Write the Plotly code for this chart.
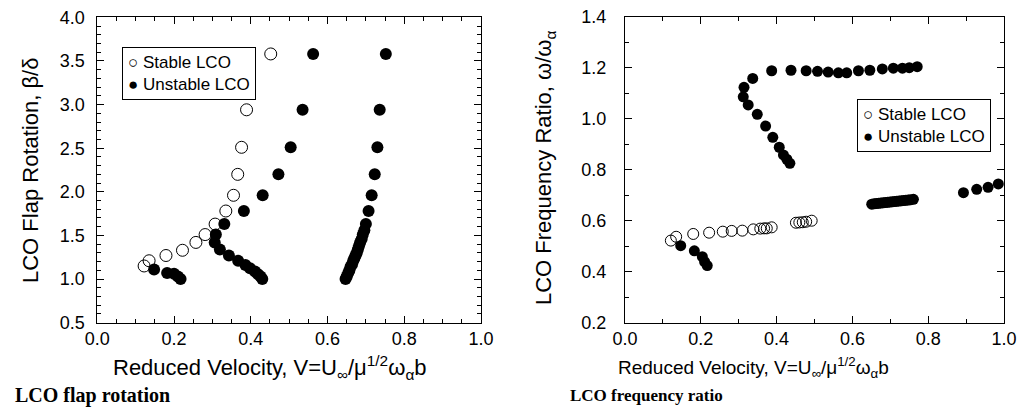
import plotly.graph_objects as go

# ---------------- data: LCO flap rotation ----------------
flap_stable_v = [0.122, 0.135, 0.179, 0.222, 0.257, 0.281, 0.307, 0.335, 0.355, 0.366, 0.376, 0.389, 0.452]
flap_stable_r = [1.15, 1.21, 1.27, 1.33, 1.42, 1.51, 1.63, 1.78, 1.96, 2.20, 2.51, 2.94, 3.58]

flap_unst_a_v = [0.148, 0.182, 0.200, 0.210, 0.217]
flap_unst_a_r = [1.11, 1.07, 1.06, 1.03, 1.00]

flap_unst_b_v = [0.430, 0.4255, 0.419, 0.411, 0.398, 0.386, 0.367, 0.343, 0.3195, 0.306, 0.309, 0.331,
                 0.382, 0.431, 0.472, 0.504, 0.535, 0.5625]
flap_unst_b_r = [1.00, 1.03, 1.056, 1.086, 1.125, 1.16, 1.21, 1.27, 1.34, 1.42, 1.51, 1.63,
                 1.78, 1.96, 2.20, 2.51, 2.94, 3.58]

flap_unst_c_v = [0.647, 0.650, 0.654, 0.657, 0.660, 0.664, 0.667, 0.670, 0.673, 0.676, 0.679, 0.682,
                 0.685, 0.689, 0.692, 0.696, 0.700, 0.707, 0.715, 0.723, 0.730, 0.736, 0.752]
flap_unst_c_r = [1.00, 1.03, 1.07, 1.10, 1.14, 1.17, 1.21, 1.24, 1.27, 1.30, 1.34, 1.38,
                 1.42, 1.46, 1.51, 1.56, 1.63, 1.78, 1.96, 2.20, 2.51, 2.94, 3.58]

# ---------------- data: LCO frequency ratio ----------------
freq_stable_v = [0.121, 0.135, 0.180, 0.222, 0.258, 0.2815, 0.3095, 0.3385, 0.357, 0.367, 0.374, 0.387,
                 0.451, 0.460, 0.469, 0.478, 0.4925]
freq_stable_w = [0.522, 0.537, 0.548, 0.553, 0.557, 0.560, 0.561, 0.566, 0.569, 0.570, 0.570, 0.574,
                 0.592, 0.593, 0.594, 0.596, 0.600]

freq_unst_a_v = [0.147, 0.183, 0.204, 0.210, 0.217]
freq_unst_a_w = [0.502, 0.482, 0.459, 0.439, 0.424]

freq_unst_b_v = [0.435, 0.427, 0.418, 0.407, 0.390, 0.371, 0.349, 0.325, 0.312, 0.314, 0.337, 0.387,
                 0.438, 0.478, 0.508, 0.536, 0.563, 0.585, 0.616, 0.646, 0.679, 0.708, 0.732, 0.750, 0.771]
freq_unst_b_w = [0.825, 0.841, 0.858, 0.888, 0.927, 0.971, 1.017, 1.054, 1.086, 1.123, 1.158, 1.188,
                 1.190, 1.188, 1.186, 1.183, 1.180, 1.180, 1.188, 1.190, 1.195, 1.198, 1.198, 1.200, 1.204]

freq_unst_c_v = [0.651, 0.657, 0.663, 0.669, 0.675, 0.681, 0.687, 0.693, 0.699, 0.705, 0.711, 0.717,
                 0.723, 0.729, 0.735, 0.741, 0.747, 0.753, 0.761]
freq_unst_c_w = [0.665, 0.666, 0.667, 0.668, 0.669, 0.670, 0.671, 0.672, 0.673, 0.674, 0.675, 0.676,
                 0.677, 0.678, 0.679, 0.680, 0.681, 0.682, 0.684]

freq_unst_d_v = [0.893, 0.928, 0.958, 0.985]
freq_unst_d_w = [0.710, 0.723, 0.731, 0.744]

series_names = ["Stable LCO", "Unstable LCO"]
legend_symbols = ["○", "●"]
x_ticks = [0.0, 0.2, 0.4, 0.6, 0.8, 1.0]
flap_ticks = [0.5, 1.0, 1.5, 2.0, 2.5, 3.0, 3.5, 4.0]
freq_ticks = [0.2, 0.4, 0.6, 0.8, 1.0, 1.2, 1.4]

# ---------------- figure ----------------
W, H = 1021, 416
FONT = "Liberation Sans, Arial, sans-serif"
SERIF = "Liberation Serif, Times New Roman, serif"

def px_x(p):
    return p / W

def px_y(p):
    return 1 - p / H

fig = go.Figure()

open_marker_l = dict(symbol="circle-open", size=12, color="black", line=dict(width=1, color="black"))
fill_marker_l = dict(symbol="circle", size=12, color="black", line=dict(width=0))
open_marker_r = dict(symbol="circle-open", size=11, color="black", line=dict(width=1, color="black"))
fill_marker_r = dict(symbol="circle", size=11, color="black", line=dict(width=0))

fig.add_trace(go.Scatter(x=flap_stable_v, y=flap_stable_r, mode="markers", name=series_names[0],
                         marker=open_marker_l, xaxis="x", yaxis="y"))
fig.add_trace(go.Scatter(x=flap_unst_a_v + flap_unst_b_v + flap_unst_c_v,
                         y=flap_unst_a_r + flap_unst_b_r + flap_unst_c_r,
                         mode="markers", name=series_names[1],
                         marker=fill_marker_l, xaxis="x", yaxis="y"))
fig.add_trace(go.Scatter(x=freq_stable_v, y=freq_stable_w, mode="markers", name=series_names[0],
                         marker=open_marker_r, xaxis="x2", yaxis="y2"))
fig.add_trace(go.Scatter(x=freq_unst_a_v + freq_unst_b_v + freq_unst_c_v + freq_unst_d_v,
                         y=freq_unst_a_w + freq_unst_b_w + freq_unst_c_w + freq_unst_d_w,
                         mode="markers", name=series_names[1],
                         marker=fill_marker_r, xaxis="x2", yaxis="y2"))

tick_font = dict(family=FONT, size=18, color="black")

def axis_common():
    return dict(showgrid=False, zeroline=False, showline=True, linecolor="black", linewidth=1,
                mirror="ticks", ticks="inside", ticklen=7, tickwidth=1, tickcolor="black",
                tickfont=tick_font, automargin=False, fixedrange=True)

xa = axis_common()
xa.update(domain=[px_x(97.3), px_x(481)], range=[0, 1], tickvals=x_ticks,
          ticktext=[f"{v:.1f}" for v in x_ticks], anchor="y",
          minor=dict(dtick=0.05, tick0=0, ticks="inside", ticklen=4, tickcolor="black"))
ya = axis_common()
ya.update(domain=[px_y(322.7), px_y(17.3)], range=[0.5, 4.0], tickvals=flap_ticks,
          ticktext=[f"{v:.1f}" for v in flap_ticks], anchor="x", ticklabelstandoff=8,
          minor=dict(dtick=0.1, tick0=0, ticks="inside", ticklen=4, tickcolor="black"))
xa2 = axis_common()
xa2.update(domain=[px_x(625), px_x(1004)], range=[0, 1], tickvals=x_ticks,
           ticktext=[f"{v:.1f}" for v in x_ticks], anchor="y2",
           minor=dict(dtick=0.1, tick0=0, ticks="inside", ticklen=4, tickcolor="black"))
ya2 = axis_common()
ya2.update(domain=[px_y(322.7), px_y(16.7)], range=[0.2, 1.4], tickvals=freq_ticks,
           ticktext=[f"{v:.1f}" for v in freq_ticks], anchor="x2", ticklabelstandoff=14,
           minor=dict(dtick=0.1, tick0=0, ticks="inside", ticklen=4, tickcolor="black"))

fig.update_layout(
    width=W, height=H, margin=dict(l=0, r=0, t=0, b=0),
    paper_bgcolor="white", plot_bgcolor="white",
    xaxis=xa, yaxis=ya, xaxis2=xa2, yaxis2=ya2,
    showlegend=False,
)

xtitle = "Reduced Velocity, V=U<sub>∞</sub>/μ<sup>1/2</sup>ω<sub>α</sub>b"
legend_text = "<br>".join(f"{s} {n}" for s, n in zip(legend_symbols, series_names))
legend_font = dict(family=FONT, size=17, color="black")

annotations = [
    dict(text=xtitle, x=px_x(111), y=px_y(367), xref="paper", yref="paper",
         xanchor="left", yanchor="middle", showarrow=False,
         font=dict(family=FONT, size=22, color="black")),
    dict(text=xtitle, x=px_x(616), y=px_y(367), xref="paper", yref="paper",
         xanchor="left", yanchor="middle", showarrow=False,
         font=dict(family=FONT, size=19, color="black")),
    dict(text="LCO Flap Rotation, β/δ", x=px_x(30), y=px_y(171), xref="paper", yref="paper",
         xanchor="center", yanchor="middle", textangle=-90, showarrow=False,
         font=dict(family=FONT, size=22, color="black")),
    dict(text="LCO Frequency Ratio, ω/ω<sub>α</sub>", x=px_x(545), y=px_y(168), xref="paper",
         yref="paper", xanchor="center", yanchor="middle", textangle=-90, showarrow=False,
         font=dict(family=FONT, size=22, color="black")),
    dict(text="<b>LCO flap rotation</b>", x=px_x(13), y=px_y(395), xref="paper", yref="paper",
         xanchor="left", yanchor="middle", showarrow=False,
         font=dict(family=SERIF, size=20, color="black")),
    dict(text="<b>LCO frequency ratio</b>", x=px_x(568), y=px_y(395), xref="paper", yref="paper",
         xanchor="left", yanchor="middle", showarrow=False,
         font=dict(family=SERIF, size=17, color="black")),
    # legends (boxed)
    dict(text=legend_text, x=px_x(122), y=px_y(47), xref="paper", yref="paper",
         xanchor="left", yanchor="top", align="left", showarrow=False, font=legend_font,
         bgcolor="white", bordercolor="black", borderwidth=1, borderpad=5),
    dict(text=legend_text, x=px_x(857), y=px_y(99), xref="paper", yref="paper",
         xanchor="left", yanchor="top", align="left", showarrow=False, font=legend_font,
         bgcolor="white", bordercolor="black", borderwidth=1, borderpad=5),
]
fig.update_layout(annotations=annotations)

fig.write_html("out.html")
